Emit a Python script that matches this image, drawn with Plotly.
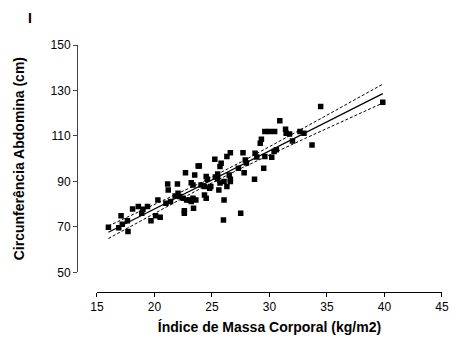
import numpy as np
import plotly.graph_objects as go

# Data (BMI vs waist circumference)
imc = [16.0, 16.9, 17.1, 17.2, 17.7, 17.65, 18.1, 18.6, 18.9, 19.0, 19.4, 19.7, 20.1, 20.3,
       20.5, 21.0, 21.15, 21.2, 21.4, 21.8, 22.0, 22.6, 22.6, 23.4,
       29.2, 29.3, 30.4, 30.6, 26.6, 26.3, 25.25, 25.8, 25.7, 23.8, 23.9, 22.7, 23.5, 24.5,
       24.6, 25.5, 25.3, 25.5, 26.5, 26.6, 26.6, 27.7, 27.9, 28.0, 27.3, 27.8, 28.75, 28.9,
       29.5, 28.7, 23.2, 23.35, 24.05, 24.35, 24.8, 24.9, 25.7, 26.05, 25.6, 26.3, 22.05,
       22.2, 22.5, 22.8, 23.05, 23.35, 23.6, 24.35, 24.5, 23.2, 26.05, 27.5, 26.0,
       34.45, 30.9, 29.6, 30.0, 30.45, 31.4, 31.45, 31.75, 32.65, 33.0, 32.0, 33.7,
       30.2, 29.6, 39.85]
cintura = [69.8, 69.6, 74.9, 71.1, 67.9, 72.7, 77.8, 78.9, 76.0, 77.7, 78.9, 72.7, 74.9, 81.8,
           74.2, 80.4, 88.8, 86.2, 81.1, 83.6, 88.8, 77.1, 76.0, 78.2,
           106.8, 108.5, 103.1, 103.9, 102.6, 100.9, 99.7, 98.0, 96.5, 96.8, 96.8, 93.8, 92.8, 92.1,
           90.9, 93.2, 91.9, 91.0, 92.8, 90.9, 89.9, 102.6, 99.4, 98.1, 95.8, 93.8, 102.4, 100.7,
           95.8, 90.9, 89.4, 88.4, 88.4, 87.7, 87.0, 87.7, 89.3, 89.9, 86.2, 87.7, 84.8,
           83.3, 82.6, 81.8, 81.8, 82.6, 81.8, 84.0, 82.6, 81.1, 81.8, 76.0, 73.0,
           122.9, 116.7, 111.9, 111.9, 111.9, 112.9, 111.2, 110.8, 111.9, 111.2, 107.8, 106.0,
           100.6, 100.9, 124.8]

x_ticks = [15, 20, 25, 30, 35, 40, 45]
y_ticks = [50, 70, 90, 110, 130, 150]

# Linear regression and 95% confidence band computed from the data
x = np.array(imc)
y = np.array(cintura)
n = len(x)
b1, b0 = np.polyfit(x, y, 1)
resid = y - (b0 + b1 * x)
s = np.sqrt(np.sum(resid ** 2) / (n - 2))
xm = x.mean()
sxx = np.sum((x - xm) ** 2)
xf = np.linspace(x.min(), x.max(), 100)
yf = b0 + b1 * xf
se = s * np.sqrt(1.0 / n + (xf - xm) ** 2 / sxx)
tval = 1.986
up = yf + tval * se
lo = yf - tval * se

fig = go.Figure()
fig.add_trace(go.Scatter(x=imc, y=cintura, mode="markers",
                         marker=dict(symbol="square", size=5.5, color="black",
                                     line=dict(width=0)),
                         showlegend=False))
fig.add_trace(go.Scatter(x=xf, y=yf, mode="lines",
                         line=dict(color="black", width=1.3), showlegend=False))
fig.add_trace(go.Scatter(x=xf, y=up, mode="lines",
                         line=dict(color="black", width=1, dash="3px,2px"), showlegend=False))
fig.add_trace(go.Scatter(x=xf, y=lo, mode="lines",
                         line=dict(color="black", width=1, dash="3px,2px"), showlegend=False))

L, R, T, B = 77, 7, 45, 50
W, H = 456, 342
pw = W - L - R
ph = H - T - B
fig.update_layout(
    width=W, height=H,
    margin=dict(l=L, r=R, t=T, b=B),
    paper_bgcolor="white", plot_bgcolor="white",
    font=dict(family="Liberation Sans, Arial, sans-serif", size=12, color="black"),
    title=dict(text="<b>I</b>", xref="container", yref="container",
               x=30 / W, y=1 - 18 / H, xanchor="center", yanchor="middle",
               font=dict(size=14)),
    xaxis=dict(domain=[(97.3 - L) / pw, 1.0], anchor="free", position=0,
               range=[15, 45], tickvals=x_ticks, ticks="outside", ticklen=4,
               tickcolor="black", showline=True, linecolor="black", linewidth=1,
               showgrid=False, zeroline=False,
               title=dict(text="<b>Índice de Massa Corporal (kg/m2)</b>",
                          font=dict(size=14), standoff=8)),
    yaxis=dict(domain=[(H - B - 272.3) / ph, 1.0], anchor="free", position=0,
               range=[50, 150], tickvals=y_ticks, ticks="outside", ticklen=4,
               tickcolor="#444", showline=True, linecolor="#444", linewidth=1,
               showgrid=False, zeroline=False,
               title=dict(text="<b>Circunferência Abdomina (cm)</b>",
                          font=dict(size=14), standoff=21)),
)

fig.write_html("out.html")
